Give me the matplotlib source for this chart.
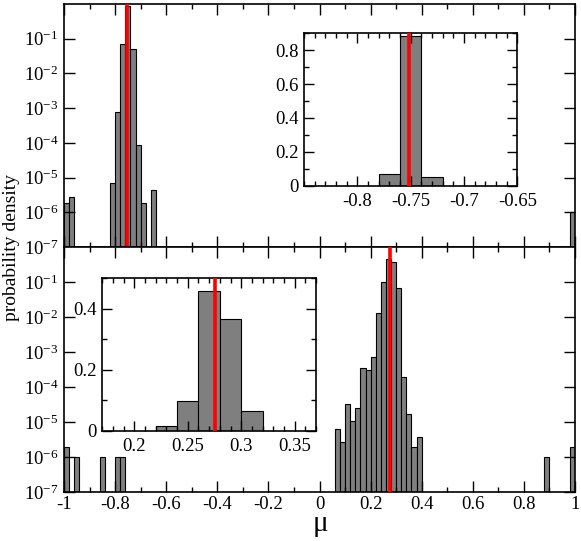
import numpy as np
import matplotlib
matplotlib.use('Agg')
import matplotlib.pyplot as plt
from matplotlib.ticker import FixedLocator, MultipleLocator, FuncFormatter, LogLocator, NullFormatter

plt.rcParams['font.family'] = ['Liberation Serif', 'DejaVu Serif']
plt.rcParams['mathtext.fontset'] = 'custom'
plt.rcParams['mathtext.rm'] = 'Liberation Serif'
plt.rcParams['mathtext.it'] = 'Liberation Serif:italic'
plt.rcParams['axes.unicode_minus'] = False

# ширина біну гістограми
bin_w = 0.02

# верхня панель: ліві краї бінів і значення
top_edges = [-1.00, -0.98, -0.82, -0.80, -0.78, -0.76, -0.74, -0.72, -0.70, -0.66, 0.98]
top_vals = [1.8e-6, 2.7e-6, 7.1e-6, 8.0e-4, 0.070, 0.885, 0.052, 8.5e-5, 1.75e-6, 4.4e-6, 9e-7]
top_mu = -0.752

# нижня панель
bot_edges = [-1.00, -0.96, -0.86, -0.80, -0.78,
             0.06, 0.08, 0.10, 0.12, 0.14, 0.16, 0.18, 0.20, 0.22,
             0.24, 0.26, 0.28, 0.30, 0.32, 0.34, 0.36, 0.38,
             0.88, 0.98]
bot_vals = [1.8e-6, 9e-7, 9e-7, 9e-7, 9e-7,
            6.3e-6, 2.65e-6, 3.3e-5, 1.03e-5, 2.5e-5, 3.5e-4, 3.1e-4, 7.4e-4, 0.0132,
            0.10, 0.46, 0.37, 0.069, 1.9e-4, 1.7e-5, 1.8e-6, 3.6e-6,
            9e-7, 1.8e-6]
bot_mu = 0.275

# вставки (лінійна шкала)
ins_top_edges = [-0.78, -0.76, -0.74]
ins_top_vals = [0.067, 0.885, 0.049]
ins_bot_edges = [0.22, 0.24, 0.26, 0.28, 0.30]
ins_bot_vals = [0.016, 0.096, 0.459, 0.366, 0.066]

bar_kw = dict(width=bin_w, align='edge', color='#7f7f7f', edgecolor='black', linewidth=0.8)
red_kw = dict(color='red', linewidth=2.6, zorder=5)

fig = plt.figure(figsize=(5.81, 5.41), dpi=100)
ax_top = fig.add_axes([0.1102, 0.5434, 0.8795, 0.4492])
ax_bot = fig.add_axes([0.1102, 0.0906, 0.8795, 0.4528])


def log_fmt(v, pos):
    return r'$10^{%d}$' % int(round(np.log10(v)))


for ax, edges, vals, mu in [(ax_top, top_edges, top_vals, top_mu),
                            (ax_bot, bot_edges, bot_vals, bot_mu)]:
    ax.set_yscale('log')
    ax.bar(edges, vals, bottom=1e-7, **bar_kw)
    ax.axvline(mu, **red_kw)
    ax.set_xlim(-1, 1)
    ax.set_ylim(1e-7, 1)
    ax.xaxis.set_major_locator(MultipleLocator(0.2))
    ax.xaxis.set_minor_locator(MultipleLocator(0.1))
    ax.yaxis.set_major_locator(FixedLocator([10.0 ** k for k in range(-7, 0)]))
    ax.yaxis.set_minor_locator(LogLocator(base=10, subs=np.arange(2, 10)))
    ax.yaxis.set_major_formatter(FuncFormatter(log_fmt))
    ax.yaxis.set_minor_formatter(NullFormatter())
    ax.tick_params(which='both', direction='in', top=True, right=True, labelsize=13.5)
    ax.tick_params(which='major', length=8, width=1)
    ax.tick_params(which='minor', length=3.8, width=1)
    ax.tick_params(axis='x', pad=3)
    ax.tick_params(axis='y', pad=4)
    for s in ax.spines.values():
        s.set_linewidth(1.2)

ax_top.tick_params(axis='x', labelbottom=False)
ax_bot.xaxis.set_major_formatter(FuncFormatter(lambda v, p: '%g' % round(v, 2)))

# вставки
ins_top = fig.add_axes([0.5232, 0.6567, 0.3673, 0.2817])
ins_top.bar(ins_top_edges, ins_top_vals, **bar_kw)
ins_top.axvline(top_mu, **red_kw)
ins_top.set_xlim(-0.85, -0.65)
ins_top.set_ylim(0, 0.9)
ins_top.set_xticks([-0.8, -0.75, -0.7, -0.65])
ins_top.xaxis.set_minor_locator(MultipleLocator(0.01))
ins_top.set_yticks([0, 0.2, 0.4, 0.6, 0.8])
ins_top.yaxis.set_minor_locator(MultipleLocator(0.1))

ins_bot = fig.add_axes([0.1761, 0.2039, 0.3678, 0.2817])
ins_bot.bar(ins_bot_edges, ins_bot_vals, **bar_kw)
ins_bot.axvline(bot_mu, **red_kw)
ins_bot.set_xlim(0.17, 0.37)
ins_bot.set_ylim(0, 0.5)
ins_bot.set_xticks([0.2, 0.25, 0.3, 0.35])
ins_bot.xaxis.set_minor_locator(MultipleLocator(0.01))
ins_bot.set_yticks([0, 0.2, 0.4])
ins_bot.yaxis.set_minor_locator(MultipleLocator(0.1))

for ax in [ins_top, ins_bot]:
    ax.xaxis.set_major_formatter(FuncFormatter(lambda v, p: '%g' % round(v, 3)))
    ax.yaxis.set_major_formatter(FuncFormatter(lambda v, p: '%g' % round(v, 2)))
    ax.tick_params(which='both', direction='in', top=True, right=True, labelsize=13.5)
    ax.tick_params(which='major', length=7, width=1)
    ax.tick_params(which='minor', length=3.5, width=1)
    ax.tick_params(axis='x', pad=5)
    ax.tick_params(axis='y', pad=4)
    for s in ax.spines.values():
        s.set_linewidth(1.2)

fig.text(0.019, 0.5434, 'probability density', rotation=90, ha='center', va='center', fontsize=14)
# mathtext дає щільну рамку навколо гліфа
fig.text(0.551, 0.004, r'$\mathrm{μ}$', ha='center', va='bottom', fontsize=21)

plt.savefig('out.png', dpi=100)
